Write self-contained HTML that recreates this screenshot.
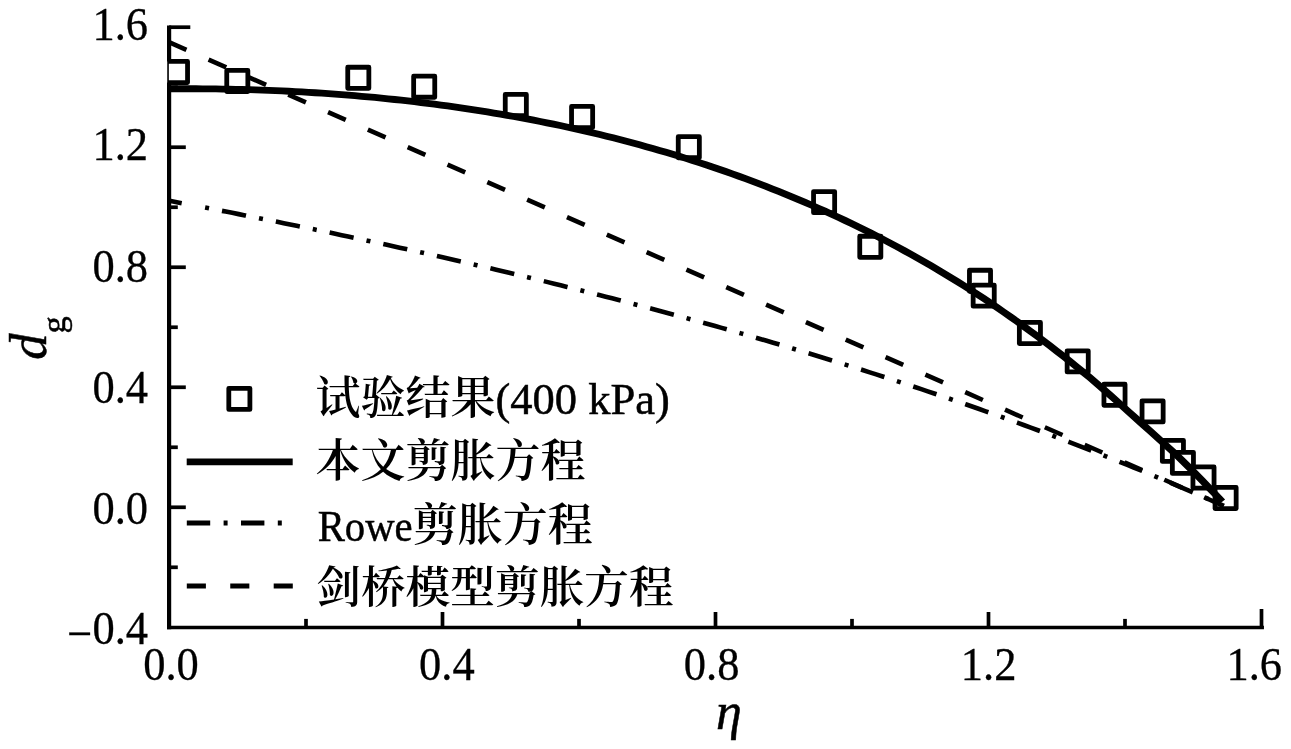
<!DOCTYPE html>
<html lang="zh"><head><meta charset="utf-8"><title>d_g - eta</title>
<style>html,body{margin:0;padding:0;background:#fff;overflow:hidden}svg{display:block}text{font-family:"Liberation Serif","Noto Serif CJK SC",serif;fill:#000}.t{font-size:44.5px;stroke:#000;stroke-width:0.3px}.c{font-family:"Liberation Serif","Noto Serif CJK SC",serif;font-size:45px}.l{font-size:44.5px;stroke:#000;stroke-width:0.5px}</style></head><body>
<svg width="1291" height="749" viewBox="0 0 1291 749">
<rect width="1291" height="749" fill="#fff"/>
<defs><clipPath id="pc"><rect x="167.65" y="0" width="1200" height="627.50"/></clipPath></defs>
<g stroke="#000" stroke-width="3.7" fill="none" stroke-linecap="butt">
<path d="M169.1,25.55 V629.35" stroke-width="4.2"/>
<path d="M167.00,627.5 H1263.95"/>
<path d="M169.1,567.29 H177.80"/>
<path d="M169.1,507.28 H185.80"/>
<path d="M169.1,447.27 H177.80"/>
<path d="M169.1,387.26 H185.80"/>
<path d="M169.1,327.25 H177.80"/>
<path d="M169.1,267.24 H185.80"/>
<path d="M169.1,207.23 H177.80"/>
<path d="M169.1,147.22 H185.80"/>
<path d="M169.1,87.21 H177.80"/>
<path d="M169.1,27.20 H190.30"/>
<path d="M306.00,627.5 v-8.6"/>
<path d="M442.50,627.5 v-15.5"/>
<path d="M579.00,627.5 v-8.6"/>
<path d="M715.50,627.5 v-15.5"/>
<path d="M852.00,627.5 v-8.6"/>
<path d="M988.50,627.5 v-15.5"/>
<path d="M1125.00,627.5 v-8.6"/>
<path d="M1261.50,627.5 v-18.5"/>
</g>
<g fill="#fff" stroke="#000" stroke-width="4.8" stroke-linejoin="round" clip-path="url(#pc)">
<rect x="166.45" y="61.45" width="21.1" height="21.1"/>
<rect x="226.75" y="70.45" width="21.1" height="21.1"/>
<rect x="347.75" y="67.25" width="21.1" height="21.1"/>
<rect x="413.65" y="76.15" width="21.1" height="21.1"/>
<rect x="505.25" y="94.45" width="21.1" height="21.1"/>
<rect x="571.55" y="106.45" width="21.1" height="21.1"/>
<rect x="678.25" y="136.65" width="21.1" height="21.1"/>
<rect x="813.55" y="191.55" width="21.1" height="21.1"/>
<rect x="859.75" y="236.25" width="21.1" height="21.1"/>
<rect x="969.45" y="270.25" width="21.1" height="21.1"/>
<rect x="973.15" y="285.05" width="21.1" height="21.1"/>
<rect x="1019.35" y="322.45" width="21.1" height="21.1"/>
<rect x="1067.15" y="350.85" width="21.1" height="21.1"/>
<rect x="1103.95" y="384.25" width="21.1" height="21.1"/>
<rect x="1142.05" y="400.85" width="21.1" height="21.1"/>
<rect x="1162.35" y="440.35" width="21.1" height="21.1"/>
<rect x="1172.35" y="452.35" width="21.1" height="21.1"/>
<rect x="1192.95" y="466.95" width="21.1" height="21.1"/>
<rect x="1215.05" y="487.45" width="21.1" height="21.1"/>
</g>
<g fill="none" stroke="#000" clip-path="url(#pc)">
<path d="M169.50,42.40 L1223.96,505.98" stroke-width="4.6" stroke-dasharray="19.3 24.2" stroke-dashoffset="0.8"/>
<path d="M169.50,200.84 L175.60,201.98 L181.70,203.14" stroke-width="4.6"/>
<path d="M200.00,206.62 L206.44,207.86 L212.88,209.10 L219.32,210.35 L225.76,211.60 L232.20,212.86 L238.64,214.13 L245.08,215.40 L251.52,216.67 L257.96,217.95 L264.40,219.24 L270.84,220.53 L277.28,221.83 L283.72,223.14 L290.16,224.45 L296.60,225.76 L303.04,227.08 L309.48,228.41 L315.92,229.75 L322.36,231.09 L328.80,232.43 L335.24,233.78 L341.68,235.14 L348.12,236.51 L354.56,237.88 L361.00,239.25 L367.44,240.64 L373.88,242.03 L380.32,243.42 L386.76,244.82 L393.20,246.23 L399.64,247.65 L406.08,249.07 L412.52,250.50 L418.96,251.93 L425.40,253.38 L431.84,254.82 L438.28,256.28 L444.72,257.74 L451.16,259.21 L457.60,260.69 L464.04,262.17 L470.48,263.66 L476.92,265.16 L483.36,266.66 L489.80,268.17 L496.24,269.69 L502.68,271.22 L509.12,272.75 L515.56,274.30 L522.00,275.84 L528.44,277.40 L534.88,278.96 L541.32,280.54 L547.76,282.11 L554.20,283.70 L560.64,285.30 L567.08,286.90 L573.52,288.51 L579.96,290.13 L586.40,291.76 L592.84,293.39 L599.28,295.03 L605.72,296.68 L612.16,298.34 L618.60,300.01 L625.04,301.69 L631.48,303.37 L637.92,305.07 L644.36,306.77 L650.80,308.48 L657.24,310.20 L663.68,311.93 L670.12,313.66 L676.56,315.41 L683.00,317.16 L689.44,318.93 L695.88,320.70 L702.32,322.48 L708.76,324.28 L715.20,326.08 L721.64,327.89 L728.08,329.71 L734.52,331.54 L740.96,333.38 L747.40,335.23 L753.84,337.09 L760.28,338.95 L766.72,340.83 L773.16,342.72 L779.60,344.62 L786.04,346.53 L792.48,348.45 L798.92,350.38 L805.36,352.32 L811.80,354.27 L818.24,356.24 L824.68,358.21 L831.12,360.19 L837.56,362.19 L844.00,364.19 L850.44,366.21 L856.88,368.24 L863.32,370.28 L869.76,372.33 L876.20,374.39 L882.64,376.46 L889.08,378.55 L895.52,380.64 L901.96,382.75 L908.40,384.87 L914.84,387.01 L921.28,389.15 L927.72,391.31 L934.16,393.48 L940.60,395.66 L947.04,397.86 L953.48,400.07 L959.92,402.29 L966.36,404.52 L972.80,406.77 L979.24,409.03 L985.68,411.30 L992.12,413.59 L998.56,415.89 L1005.00,418.20 L1011.44,420.53 L1017.88,422.87 L1024.32,425.22 L1030.76,427.59 L1037.20,429.98 L1043.64,432.38 L1050.08,434.79 L1056.52,437.22 L1062.96,439.66 L1069.40,442.12 L1075.84,444.59 L1082.28,447.08 L1088.72,449.58 L1095.16,452.10 L1101.60,454.63 L1108.04,457.18 L1114.48,459.75 L1120.92,462.33 L1127.36,464.93 L1133.80,467.54 L1140.24,470.17 L1146.68,472.82 L1153.12,475.48 L1159.56,478.17 L1166.00,480.86 L1172.44,483.58 L1178.88,486.31 L1185.32,489.07 L1191.76,491.84 L1198.20,494.62 L1204.64,497.43 L1211.08,500.25 L1217.52,503.09 L1223.96,505.96" stroke-width="4.6" stroke-dasharray="24.5 13.2 4 13.2" stroke-dashoffset="32.5"/>
<path d="M154.091,88.81 L160.110,88.77 L166.129,88.74 L172.148,88.74 L178.168,88.76 L184.187,88.79 L190.206,88.85 L196.225,88.93 L202.244,89.04 L208.264,89.16 L214.283,89.31 L220.302,89.47 L226.321,89.66 L232.340,89.87 L238.360,90.10 L244.379,90.36 L250.398,90.63 L256.417,90.93 L262.436,91.25 L268.456,91.59 L274.475,91.96 L280.494,92.34 L286.513,92.75 L292.532,93.19 L298.551,93.64 L304.571,94.12 L310.590,94.63 L316.609,95.15 L322.628,95.70 L328.647,96.27 L334.667,96.87 L340.686,97.49 L346.705,98.14 L352.724,98.81 L358.743,99.50 L364.763,100.22 L370.782,100.96 L376.801,101.73 L382.820,102.53 L388.839,103.35 L394.858,104.20 L400.878,105.07 L406.897,105.97 L412.916,106.90 L418.935,107.85 L424.954,108.83 L430.974,109.84 L436.993,110.87 L443.012,111.94 L449.031,113.03 L455.050,114.15 L461.070,115.30 L467.089,116.47 L473.108,117.68 L479.127,118.92 L485.146,120.18 L491.166,121.48 L497.185,122.81 L503.204,124.17 L509.223,125.56 L515.242,126.98 L521.261,128.43 L527.281,129.92 L533.300,131.44 L539.319,132.99 L545.338,134.57 L551.357,136.19 L557.377,137.84 L563.396,139.53 L569.415,141.25 L575.434,143.01 L581.453,144.80 L587.473,146.63 L593.492,148.49 L599.511,150.39 L605.530,152.33 L611.549,154.31 L617.569,156.32 L623.588,158.37 L629.607,160.47 L635.626,162.60 L641.645,164.77 L647.664,166.98 L653.684,169.23 L659.703,171.52 L665.722,173.85 L671.741,176.23 L677.760,178.65 L683.780,181.11 L689.799,183.62 L695.818,186.16 L701.837,188.76 L707.856,191.40 L713.876,194.08 L719.895,196.81 L725.914,199.59 L731.933,202.41 L737.952,205.28 L743.971,208.20 L749.991,211.17 L756.010,214.19 L762.029,217.25 L768.048,220.37 L774.067,223.54 L780.087,226.76 L786.106,230.03 L792.125,233.35 L798.144,236.73 L804.163,240.16 L810.183,243.64 L816.202,247.18 L822.221,250.78 L828.240,254.43 L834.259,258.14 L840.279,261.90 L846.298,265.73 L852.317,269.61 L858.336,273.55 L864.355,277.55 L870.374,281.61 L876.394,285.75 L882.413,289.97 L888.432,294.26 L894.451,298.62 L900.470,303.05 L906.490,307.55 L912.509,312.10 L918.528,316.73 L924.547,321.44 L930.566,326.22 L936.586,331.07 L942.605,335.98 L948.624,340.95 L954.643,345.98 L960.662,351.07 L966.681,356.21 L972.701,361.42 L978.720,366.71 L984.739,372.10 L990.758,377.61 L996.777,383.24 L1002.797,388.96 L1008.816,394.75 L1014.835,400.62 L1020.854,406.58 L1026.873,412.57 L1032.893,418.52 L1038.912,424.46 L1044.931,430.44 L1050.950,436.47 L1056.969,442.42 L1062.989,448.34 L1069.008,454.42 L1075.027,460.80 L1081.046,467.34 L1087.065,473.99 L1093.084,480.78 L1099.104,487.67 L1105.123,494.65 L1111.142,501.72" stroke-width="6.8" transform="scale(1.1,1)"/>
</g>
<g fill="none" stroke="#000">
<rect x="228.80" y="388.30" width="21.1" height="21.1" stroke-width="4.8" stroke-linejoin="round"/>
<path d="M186.7,461.9 H292.7" stroke-width="6.8"/>
<path d="M186.8,522.9 H283" stroke-width="5" stroke-dasharray="23.4 13.4 4 13.4"/>
<path d="M186.8,586.1 H293" stroke-width="5" stroke-dasharray="19.1 24.35"/>
</g>
<g class="c">
<text x="315.5" y="413.8"><tspan font-weight="600">试验结果</tspan><tspan class="l">(400 kPa)</tspan></text>
<text x="315.5" y="476.8"><tspan font-weight="600">本文剪胀方程</tspan></text>
<text x="317.7" y="540.6"><tspan class="l" textLength="95" lengthAdjust="spacingAndGlyphs">Rowe</tspan><tspan font-weight="600">剪胀方程</tspan></text>
<text x="316.2" y="603.3" font-size="44.7"><tspan font-weight="600">剑桥模型剪胀方程</tspan></text>
</g>
<g class="t" text-anchor="end">
<text transform="translate(148,39.6) scale(1,1.022)">1.6</text>
<text transform="translate(148,160.4) scale(1,1.022)">1.2</text>
<text transform="translate(148,281.9) scale(1,1.022)">0.8</text>
<text transform="translate(148,402.9) scale(1,1.022)">0.4</text>
<text transform="translate(148,523.6) scale(1,1.022)">0.0</text>
<text transform="translate(148,644.2) scale(1,1.022)"><tspan dy="4.3">−</tspan><tspan dy="-4.3">0.4</tspan></text>
</g>
<g class="t" text-anchor="middle">
<text transform="translate(171.0,680) scale(1,1.022)">0.0</text>
<text transform="translate(446.9,680) scale(1,1.022)">0.4</text>
<text transform="translate(711.6,680) scale(1,1.022)">0.8</text>
<text transform="translate(988.6,680) scale(1,1.022)">1.2</text>
<text transform="translate(1254.2,680) scale(1,1.022)">1.6</text>
</g>
<g stroke="#000" stroke-width="0.5">
<text x="716" y="728.9" font-size="52" font-style="italic">η</text>
<text transform="translate(45.8,359.8) rotate(-90)"><tspan font-size="52.5" font-style="italic">d</tspan><tspan font-size="34.5" dy="18.7">g</tspan></text>
</g>
</svg></body></html>
